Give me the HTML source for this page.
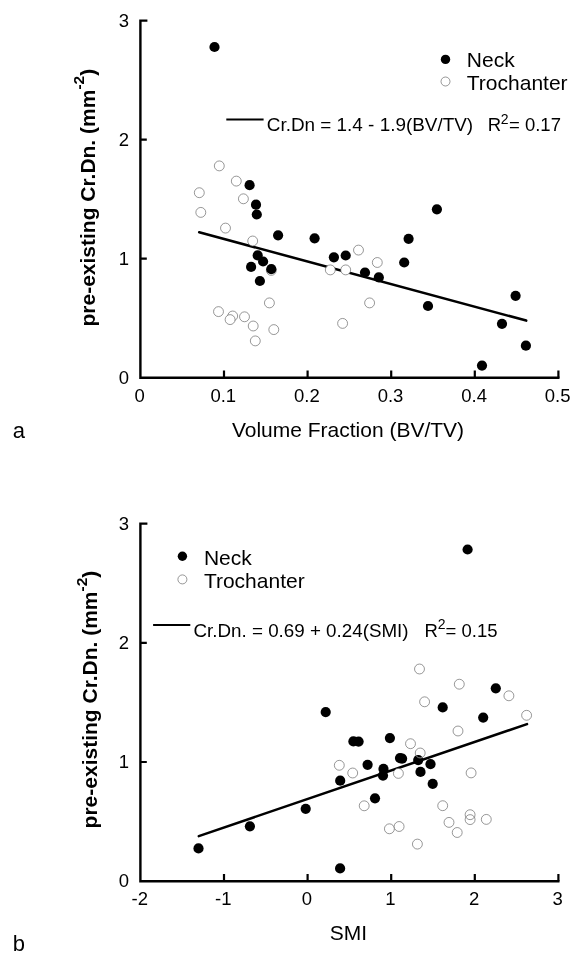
<!DOCTYPE html>
<html><head><meta charset="utf-8"><title>Figure</title>
<style>
html,body{margin:0;padding:0;background:#fff}
svg{display:block}
text{font-family:"Liberation Sans",Arial,sans-serif;fill:#000}
.tk{font-size:18.5px}
.lg{font-size:21px}
.eq{font-size:18.5px}
.yl{font-size:21px;font-weight:bold}
.xl{font-size:21px}
.pn{font-size:22px}
.o circle{fill:#fff;stroke:#606060;stroke-width:0.65}
.o .n{fill:none}
.f circle{fill:#000}
</style></head><body>
<svg width="584" height="965" viewBox="0 0 584 965">
<rect width="584" height="965" fill="#fff"/>
<!-- panel a -->
<path d="M147.4 20.6H140.4V377.8H559.5" fill="none" stroke="#000" stroke-width="2.4" stroke-linejoin="miter"/>
<path d="M140.4 258.7h6.4 M140.4 139.7h6.4 M224.0 377.8v-7.2 M307.6 377.8v-7.2 M391.2 377.8v-7.2 M474.8 377.8v-7.2 M558.4 377.8v-7.2" fill="none" stroke="#000" stroke-width="2.2"/>
<text class="tk" x="129" y="383.7" text-anchor="end">0</text>
<text class="tk" x="129" y="264.6" text-anchor="end">1</text>
<text class="tk" x="129" y="145.6" text-anchor="end">2</text>
<text class="tk" x="129" y="26.5" text-anchor="end">3</text>
<text class="tk" x="139.7" y="401.9" text-anchor="middle">0</text>
<text class="tk" x="223.3" y="401.9" text-anchor="middle">0.1</text>
<text class="tk" x="306.9" y="401.9" text-anchor="middle">0.2</text>
<text class="tk" x="390.5" y="401.9" text-anchor="middle">0.3</text>
<text class="tk" x="474.1" y="401.9" text-anchor="middle">0.4</text>
<text class="tk" x="557.7" y="401.9" text-anchor="middle">0.5</text>
<line x1="199.2" y1="232.2" x2="526.2" y2="320.6" stroke="#000" stroke-width="2.55" stroke-linecap="round"/>
<g class="o">
<circle cx="445.5" cy="81.5" r="4.5"/>
<circle cx="219.3" cy="165.9" r="4.95"/>
<circle cx="236.3" cy="181.1" r="4.95"/>
<circle cx="199.3" cy="192.7" r="4.95"/>
<circle cx="243.4" cy="198.8" r="4.95"/>
<circle cx="200.8" cy="212.4" r="4.95"/>
<circle cx="225.5" cy="228.1" r="4.95"/>
<circle cx="252.7" cy="241" r="4.95"/>
<circle cx="271.3" cy="270.4" r="4.95"/>
<circle cx="269.4" cy="302.9" r="4.95"/>
<circle cx="218.5" cy="311.6" r="4.95"/>
<circle cx="232.7" cy="316" r="4.95"/>
<circle cx="230.1" cy="319.6" r="4.95"/>
<circle cx="244.5" cy="316.8" r="4.95"/>
<circle cx="253.2" cy="326" r="4.95"/>
<circle cx="273.8" cy="329.6" r="4.95"/>
<circle cx="255.3" cy="340.9" r="4.95"/>
<circle cx="358.5" cy="250.1" r="4.95"/>
<circle cx="377.3" cy="262.5" r="4.95"/>
<circle cx="330.3" cy="269.9" r="4.95"/>
<circle cx="345.7" cy="269.9" r="4.95"/>
<circle cx="369.6" cy="302.9" r="4.95"/>
<circle cx="342.6" cy="323.4" r="4.95"/>
</g>
<g class="f">
<circle cx="214.5" cy="47" r="5.1"/>
<circle cx="249.6" cy="185.2" r="5.1"/>
<circle cx="256" cy="204.7" r="5.1"/>
<circle cx="256.8" cy="214.5" r="5.1"/>
<circle cx="278.1" cy="235.3" r="5.1"/>
<circle cx="314.6" cy="238.3" r="5.1"/>
<circle cx="257.7" cy="255.4" r="5.1"/>
<circle cx="263.1" cy="261.5" r="5.1"/>
<circle cx="251.1" cy="266.9" r="5.1"/>
<circle cx="271.3" cy="269.2" r="5.1"/>
<circle cx="259.9" cy="281" r="5.1"/>
<circle cx="436.9" cy="209.3" r="5.1"/>
<circle cx="408.6" cy="238.8" r="5.1"/>
<circle cx="333.9" cy="257.3" r="5.1"/>
<circle cx="345.7" cy="255.5" r="5.1"/>
<circle cx="404.2" cy="262.5" r="5.1"/>
<circle cx="365" cy="272.5" r="5.1"/>
<circle cx="378.8" cy="277.4" r="5.1"/>
<circle cx="428" cy="306" r="5.1"/>
<circle cx="515.6" cy="295.8" r="5.1"/>
<circle cx="502" cy="323.8" r="5.1"/>
<circle cx="525.9" cy="345.7" r="5.1"/>
<circle cx="482" cy="365.6" r="5.1"/>
<circle cx="445.5" cy="59.4" r="4.7"/>
</g>
<text class="lg" x="466.8" y="67.3">Neck</text>
<text class="lg" x="466.8" y="89.6">Trochanter</text>
<line x1="226.3" y1="119.4" x2="263.6" y2="119.4" stroke="#000" stroke-width="2"/>
<text class="eq" x="266.8" y="131.3" style="font-size:18.9px">Cr.Dn = 1.4 - 1.9(BV/TV)</text>
<text class="eq" x="487.7" y="131.3">R</text><text x="500.8" y="123.6" font-size="14px">2</text><text class="eq" x="509" y="131.3">= 0.17</text>
<text class="yl" transform="translate(94.8,326.5) rotate(-90)">pre-existing Cr.Dn. (mm<tspan dy="-10.4" font-size="15.5px">-2</tspan><tspan dy="10.4">)</tspan></text>
<text class="xl" x="348" y="436.5" text-anchor="middle">Volume Fraction (BV/TV)</text>
<text class="pn" x="12.7" y="437.8">a</text>
<!-- panel b -->
<path d="M147.4 523.6H140.4V881.2H559.5" fill="none" stroke="#000" stroke-width="2.4" stroke-linejoin="miter"/>
<path d="M140.4 762.0h6.4 M140.4 642.8h6.4 M224.0 881.2v-7.2 M307.6 881.2v-7.2 M391.2 881.2v-7.2 M474.8 881.2v-7.2 M558.4 881.2v-7.2" fill="none" stroke="#000" stroke-width="2.2"/>
<text class="tk" x="129" y="887.1" text-anchor="end">0</text>
<text class="tk" x="129" y="767.9" text-anchor="end">1</text>
<text class="tk" x="129" y="648.7" text-anchor="end">2</text>
<text class="tk" x="129" y="529.5" text-anchor="end">3</text>
<text class="tk" x="139.7" y="905.3" text-anchor="middle">-2</text>
<text class="tk" x="223.3" y="905.3" text-anchor="middle">-1</text>
<text class="tk" x="306.9" y="905.3" text-anchor="middle">0</text>
<text class="tk" x="390.5" y="905.3" text-anchor="middle">1</text>
<text class="tk" x="474.1" y="905.3" text-anchor="middle">2</text>
<text class="tk" x="557.7" y="905.3" text-anchor="middle">3</text>
<line x1="198.8" y1="836.1" x2="527" y2="724.1" stroke="#000" stroke-width="2.55" stroke-linecap="round"/>
<g class="o">
<circle cx="182.4" cy="579.4" r="4.5"/>
<circle cx="424.6" cy="701.8" r="4.95"/>
<circle cx="410.5" cy="743.7" r="4.95"/>
<circle cx="420.2" cy="753" r="4.95"/>
<circle cx="339.3" cy="765.3" r="4.95"/>
<circle cx="352.7" cy="773" r="4.95"/>
<circle cx="398.4" cy="773.4" r="4.95"/>
<circle cx="364.2" cy="805.8" r="4.95"/>
<circle cx="442.7" cy="805.7" r="4.95"/>
<circle cx="419.5" cy="669" r="4.95"/>
<circle cx="459.3" cy="684.2" r="4.95"/>
<circle cx="508.9" cy="695.8" r="4.95"/>
<circle cx="526.6" cy="715.3" r="4.95"/>
<circle cx="458" cy="731" r="4.95"/>
<circle cx="471.1" cy="772.9" r="4.95"/>
<circle cx="470.1" cy="814.7" r="4.95"/>
<circle class="n" cx="470.1" cy="819.6" r="4.95"/>
<circle cx="486.3" cy="819.4" r="4.95"/>
<circle cx="449" cy="822.4" r="4.95"/>
<circle cx="457.2" cy="832.5" r="4.95"/>
<circle cx="417.4" cy="844.1" r="4.95"/>
<circle cx="389.4" cy="828.8" r="4.95"/>
<circle cx="399.1" cy="826.5" r="4.95"/>
</g>
<g class="f">
<circle cx="325.7" cy="712.1" r="5.1"/>
<circle cx="442.7" cy="707.4" r="5.1"/>
<circle cx="353.4" cy="741.4" r="5.1"/>
<circle cx="358.6" cy="741.6" r="5.1"/>
<circle cx="389.9" cy="738.1" r="5.1"/>
<circle cx="367.6" cy="764.8" r="5.1"/>
<circle cx="400.0" cy="758.1" r="5.1"/>
<circle cx="402.1" cy="758.7" r="5.1"/>
<circle cx="418.2" cy="760.1" r="5.1"/>
<circle cx="430.5" cy="764.2" r="5.1"/>
<circle cx="383.5" cy="768.9" r="5.1"/>
<circle cx="383" cy="775.6" r="5.1"/>
<circle cx="420.5" cy="771.9" r="5.1"/>
<circle cx="340.2" cy="780.7" r="5.1"/>
<circle cx="432.7" cy="783.8" r="5.1"/>
<circle cx="375" cy="798.3" r="5.1"/>
<circle cx="305.7" cy="808.8" r="5.1"/>
<circle cx="198.5" cy="848.4" r="5.1"/>
<circle cx="249.9" cy="826.3" r="5.1"/>
<circle cx="495.8" cy="688.3" r="5.1"/>
<circle cx="483.2" cy="717.6" r="5.1"/>
<circle cx="340.1" cy="868.4" r="5.1"/>
<circle cx="467.6" cy="549.5" r="5.1"/>
<circle cx="182.4" cy="556.3" r="4.7"/>
</g>
<clipPath id="cb"><circle cx="418.2" cy="760.1" r="5.1"/></clipPath>
<circle cx="420.2" cy="753" r="4.95" fill="none" stroke="#b0b0b0" stroke-width="0.8" clip-path="url(#cb)"/>
<text class="lg" x="203.9" y="564.5">Neck</text>
<text class="lg" x="203.9" y="587.5">Trochanter</text>
<line x1="153.1" y1="625.1" x2="190.3" y2="625.1" stroke="#000" stroke-width="2"/>
<text class="eq" x="193.5" y="636.7" style="font-size:18.8px">Cr.Dn. = 0.69 + 0.24(SMI)</text>
<text class="eq" x="424.5" y="637">R</text><text x="437.8" y="629.2" font-size="14px">2</text><text class="eq" x="445.6" y="637">= 0.15</text>
<text class="yl" transform="translate(97.4,828.4) rotate(-90)">pre-existing Cr.Dn. (mm<tspan dy="-10.4" font-size="15.5px">-2</tspan><tspan dy="10.4">)</tspan></text>
<text class="xl" x="348.3" y="939.5" text-anchor="middle">SMI</text>
<text class="pn" x="12.7" y="951">b</text>
</svg>
</body></html>
